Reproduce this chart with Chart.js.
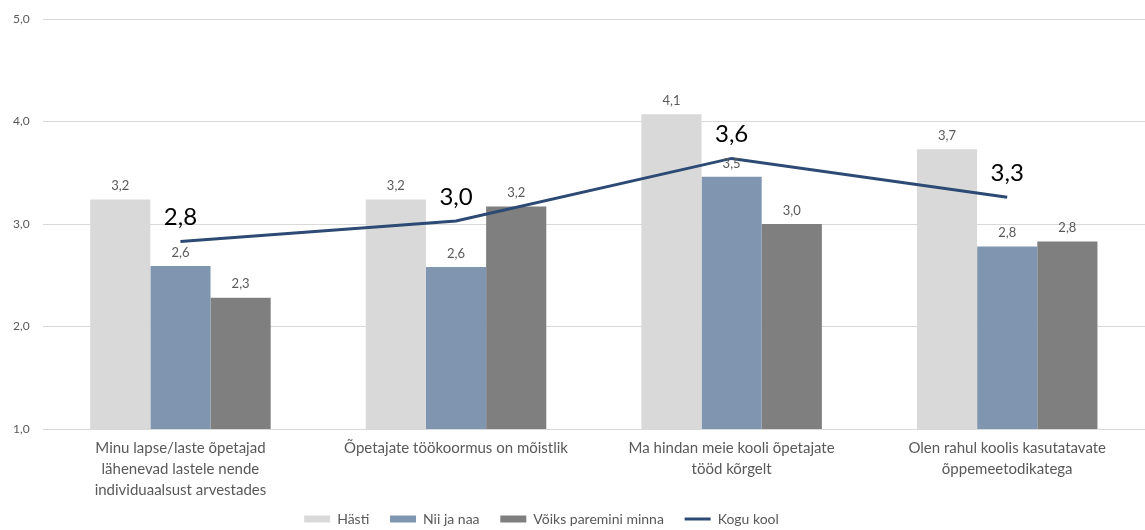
<!DOCTYPE html>
<html>
<head>
<meta charset="utf-8">
<script src="https://cdn.jsdelivr.net/npm/chart.js@4.4.0/dist/chart.umd.min.js"></script>
<style>
  html, body { margin: 0; padding: 0; background: #fff; }
  #wrap { width: 1145px; height: 530px; }
</style>
</head>
<body>
<div id="wrap"><canvas id="chart"></canvas></div>
<script>
const categories = [
    ['Minu lapse/laste õpetajad', 'lähenevad lastele nende', 'individuaalsust arvestades'],
    'Õpetajate töökoormus on mõistlik',
    ['Ma hindan meie kooli õpetajate', 'tööd kõrgelt'],
    ['Olen rahul koolis kasutatavate', 'õppemeetodikatega']
];
const hasti = [3.24, 3.24, 4.07, 3.73];
const niiJaNaa = [2.59, 2.58, 3.46, 2.78];
const voiks = [2.28, 3.17, 3.0, 2.83];
const koguKool = [2.83, 3.03, 3.64, 3.26];
const yTicks = [1, 2, 3, 4, 5];

const fontFamily = "Lato, 'Open Sans', sans-serif";
const fmt = v => v.toFixed(1).replace('.', ',');

// value labels above bars and above line points
const valueLabels = {
    id: 'valueLabels',
    afterDatasetsDraw(chart) {
        const ctx = chart.ctx;
        ctx.save();
        ctx.textAlign = 'center';
        ctx.textBaseline = 'bottom';
        chart.data.datasets.forEach((ds, i) => {
            const meta = chart.getDatasetMeta(i);
            meta.data.forEach((el, j) => {
                if (ds.type === 'line') {
                    ctx.font = '24px ' + fontFamily;
                    ctx.fillStyle = '#000';
                    ctx.fillText(fmt(ds.data[j]), el.x, el.y - 12);
                } else {
                    ctx.font = '13px ' + fontFamily;
                    ctx.fillStyle = '#595959';
                    ctx.fillText(fmt(ds.data[j]), el.x, el.y - 7);
                }
            });
        });
        ctx.restore();
    }
};

// legend in the original sits a little left of centre
const legendShift = {
    id: 'legendShift',
    afterInit(chart) {
        const lg = chart.legend;
        const draw = lg.draw.bind(lg);
        lg.draw = function() {
            chart.ctx.save();
            chart.ctx.translate(-36, 0);
            draw();
            chart.ctx.restore();
        };
    }
};

new Chart(document.getElementById('chart'), {
    data: {
        labels: categories,
        datasets: [
            { type: 'bar', label: 'Hästi', data: hasti, backgroundColor: '#d9d9d9', order: 2 },
            { type: 'bar', label: 'Nii ja naa', data: niiJaNaa, backgroundColor: '#8096b0', order: 2 },
            { type: 'bar', label: 'Võiks paremini minna', data: voiks, backgroundColor: '#7f7f7f', order: 2 },
            { type: 'line', label: 'Kogu kool', data: koguKool, borderColor: '#2c4a74', backgroundColor: '#2c4a74',
              borderWidth: 3, pointRadius: 0, tension: 0, order: 1 }
        ]
    },
    options: {
        responsive: true,
        maintainAspectRatio: false,
        animation: false,
        layout: { padding: { top: 19, right: 0, left: 10, bottom: -6 } },
        datasets: {
            bar: { categoryPercentage: 0.655, barPercentage: 1.0, borderWidth: 0 }
        },
        scales: {
            x: {
                grid: { display: false },
                border: { display: false },
                ticks: { color: '#595959', font: { family: fontFamily, size: 15, lineHeight: 1.4 }, maxRotation: 0, padding: 1 }
            },
            y: {
                min: 1,
                max: 5,
                afterBuildTicks: axis => { axis.ticks = yTicks.map(v => ({ value: v })); },
                grid: { color: '#d9d9d9', drawTicks: true, tickLength: 10, tickColor: '#ffffff' },
                border: { display: false },
                ticks: { color: '#595959', font: { family: fontFamily, size: 12 }, padding: 3, callback: v => fmt(v) }
            }
        },
        plugins: {
            legend: {
                position: 'bottom',
                labels: {
                    color: '#595959',
                    font: { family: fontFamily, size: 14 },
                    usePointStyle: true,
                    pointStyleWidth: 26,
                    boxHeight: 7,
                    padding: 10,
                    sort: (a, b) => a.datasetIndex - b.datasetIndex,
                    generateLabels(chart) {
                        const items = Chart.defaults.plugins.legend.labels.generateLabels(chart);
                        items.forEach(it => {
                            const ds = chart.data.datasets[it.datasetIndex];
                            const isLine = ds.type === 'line';
                            it.pointStyle = isLine ? 'line' : 'rect';
                            it.lineWidth = isLine ? 3 : 0;
                            it.strokeStyle = isLine ? '#2c4a74' : ds.backgroundColor;
                            // a bit more room between legend entries
                            if (!isLine) it.text = it.text + '\u00a0\u00a0\u00a0';
                        });
                        return items;
                    }
                }
            },
            tooltip: { enabled: false }
        }
    },
    plugins: [valueLabels, legendShift]
});
</script>
</body>
</html>
